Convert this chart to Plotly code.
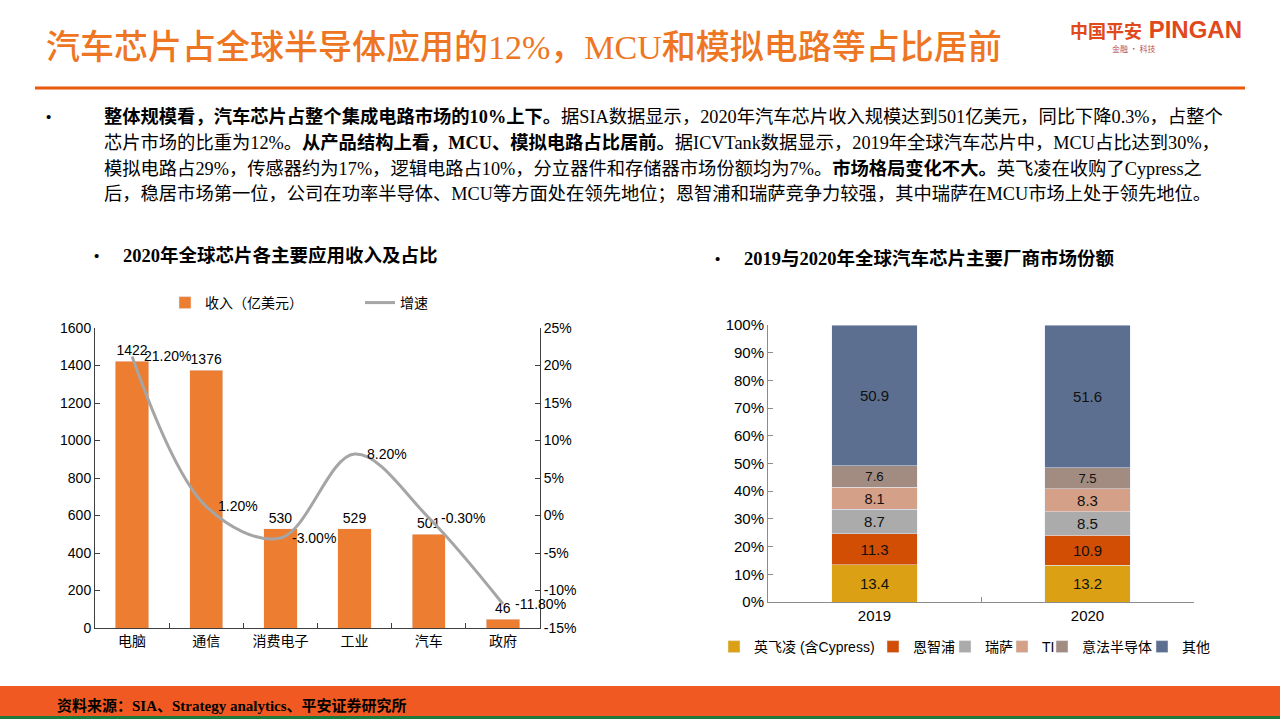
import plotly.graph_objects as go

# ---------------- data ----------------
apps = ["电脑", "通信", "消费电子", "工业", "汽车", "政府"]
revenue = [1422, 1376, 530, 529, 501, 46]          # 收入（亿美元）
growth = [21.2, 1.2, -3.0, 8.2, -0.3, -11.8]        # 增速 %

left_ticks = [0, 200, 400, 600, 800, 1000, 1200, 1400, 1600]
right_ticks = [-15, -10, -5, 0, 5, 10, 15, 20, 25]
right_ticktext = ["-15%", "-10%", "-5%", "0%", "5%", "10%", "15%", "20%", "25%"]

years = ["2019", "2020"]
vendors = ["英飞凌 (含Cypress)", "恩智浦", "瑞萨", "TI", "意法半导体", "其他"]
share_2019 = [13.4, 11.3, 8.7, 8.1, 7.6, 50.9]
share_2020 = [13.2, 10.9, 8.5, 8.3, 7.5, 51.6]
share_ticks = [0, 10, 20, 30, 40, 50, 60, 70, 80, 90, 100]
share_ticktext = [f"{t}%" for t in share_ticks]

vendor_colors = ["#DBA013", "#D24E04", "#ABABAB", "#D4A087", "#A28C82", "#5D6F90"]
# legend box left edges (px) for each vendor entry
vendor_legend_x = [714, 873, 945, 1002, 1042, 1142]

W, H = 1280, 720
def px(x):
    return x / W
def py(y):
    return 1 - y / H

SANS = "Liberation Sans, Noto Sans CJK SC, sans-serif"
CJK = "Noto Sans CJK SC, Liberation Serif, serif"
SERIF = "Liberation Serif, Noto Sans CJK SC, serif"

fig = go.Figure()

# ---------------- left chart ----------------
fig.add_trace(go.Bar(
    x=apps, y=revenue, name="收入（亿美元）", marker_color="#ED7D31",
    width=0.45, text=[str(v) for v in revenue], textposition="outside",
    textfont=dict(size=14, color="#000000", family=SANS), cliponaxis=False,
    xaxis="x", yaxis="y", legend="legend",
))
fig.add_trace(go.Scatter(
    x=apps, y=growth, name="增速", mode="lines",
    line=dict(color="#A5A5A5", width=3, shape="spline", smoothing=1.0),
    xaxis="x", yaxis="y2", legend="legend",
))
# growth labels (placed right of each point)
for c, g in zip(apps, growth):
    fig.add_annotation(x=c, y=g, xref="x", yref="y2", text=f"{g:.2f}%",
                       showarrow=False, xanchor="left", yanchor="middle",
                       xshift=10, yshift=0,
                       font=dict(size=14, color="#000000", family=SANS))

# ---------------- right chart ----------------
legend_cfg = {}
for i, v in enumerate(vendors):
    vals = [share_2019[i], share_2020[i]]
    lg = f"legend{i + 2}"
    fig.add_trace(go.Bar(
        x=years, y=vals, name=v, marker_color=vendor_colors[i], width=0.4,
        text=[f"{s:.1f}" for s in vals], textposition="inside",
        insidetextanchor="middle", textangle=0,
        textfont=dict(size=15, color="#111111", family=SANS),
        xaxis="x2", yaxis="y3", legend=lg,
    ))
    legend_cfg[lg] = dict(x=px(vendor_legend_x[i]), y=py(647), xanchor="left",
                          yanchor="middle", orientation="h",
                          bgcolor="rgba(0,0,0,0)", itemwidth=30,
                          font=dict(size=14, family=SANS, color="#000000"))

fig.update_layout(
    width=W, height=H, autosize=False,
    margin=dict(l=0, r=0, t=0, b=0, autoexpand=False),
    paper_bgcolor="white", plot_bgcolor="rgba(0,0,0,0)",
    barmode="stack",
    font=dict(family=SANS, color="#000000", size=14),
    xaxis=dict(domain=[px(95), px(540)], type="category", range=[-0.5, 5.5],
               showline=True, linecolor="#404040", linewidth=1, ticks="inside",
               tickson="boundaries", ticklen=5, tickcolor="#404040", showgrid=False,
               tickfont=dict(size=14, family=SANS), anchor="y"),
    yaxis=dict(domain=[py(628), py(328)], range=[0, 1600], tickvals=left_ticks,
               showline=True, linecolor="#404040", ticks="inside", ticklen=5,
               tickcolor="#404040", showgrid=False, zeroline=False,
               tickfont=dict(size=14, family=SANS), anchor="x"),
    yaxis2=dict(domain=[py(628), py(328)], range=[-15, 25], overlaying="y", side="right",
                tickvals=right_ticks, ticktext=right_ticktext,
                showline=True, linecolor="#404040", ticks="inside", ticklen=5,
                tickcolor="#404040", showgrid=False, zeroline=False,
                tickfont=dict(size=14, family=SANS), anchor="x"),
    xaxis2=dict(domain=[px(768), px(1194)], type="category", range=[-0.5, 1.5],
                showline=True, linecolor="#8C8C8C", ticks="inside", tickson="boundaries",
                ticklen=5, tickcolor="#8C8C8C", showgrid=False,
                tickfont=dict(size=15, family=SANS), anchor="y3"),
    yaxis3=dict(domain=[py(602), py(325)], range=[0, 100], tickvals=share_ticks,
                ticktext=share_ticktext, showline=True, linecolor="#8C8C8C",
                ticks="inside", ticklen=5, tickcolor="#8C8C8C", showgrid=False,
                zeroline=False, tickfont=dict(size=15, family=SANS), anchor="x2"),
    legend=dict(orientation="h", x=px(165), y=py(303), xanchor="left", yanchor="middle",
                bgcolor="rgba(0,0,0,0)", font=dict(size=14, family=SANS),
                entrywidth=150, itemwidth=30, traceorder="normal"),
    showlegend=True,
    **legend_cfg,
)

# ---------------- slide decorations ----------------
shapes = [
    dict(type="line", xref="paper", yref="paper", x0=px(35), x1=px(1245), y0=py(88), y1=py(88),
         line=dict(color="#E8590C", width=3)),
    dict(type="rect", xref="paper", yref="paper", x0=0, x1=1, y0=py(716), y1=py(686),
         fillcolor="#F05A22", line=dict(width=0), layer="below"),
    dict(type="rect", xref="paper", yref="paper", x0=0, x1=1, y0=py(719), y1=py(716),
         fillcolor="#1E7A3A", line=dict(width=0), layer="below"),
]
fig.update_layout(shapes=shapes)

def note(x, y, text, size, color="#000000", family=CJK, xanchor="left", weight="normal"):
    fig.add_annotation(x=px(x), y=py(y), xref="paper", yref="paper", text=text,
                       showarrow=False, xanchor=xanchor, yanchor="middle",
                       font=dict(size=size, color=color, family=family, weight=weight),
                       align="left")

note(44, 48, "汽车芯片占全球半导体应用的12%，MCU和模拟电路等占比居前", 34, "#EE7623", SERIF,
     weight=500)
note(1068, 30, "<b><span style='font-size:18px'>中国平安</span> PINGAN</b>", 24, "#E0491B", SANS)
note(1110, 49, "金融 · 科技", 8, "#C0504D", CJK)

para = [
    "<b>整体规模看，汽车芯片占整个集成电路市场的10%上下。</b>据SIA数据显示，2020年汽车芯片收入规模达到501亿美元，同比下降0.3%，占整个",
    "芯片市场的比重为12%。<b>从产品结构上看，MCU、模拟电路占比居前。</b>据ICVTank数据显示，2019年全球汽车芯片中，MCU占比达到30%，",
    "模拟电路占29%，传感器约为17%，逻辑电路占10%，分立器件和存储器市场份额均为7%。<b>市场格局变化不大。</b>英飞凌在收购了Cypress之",
    "后，稳居市场第一位，公司在功率半导体、MCU等方面处在领先地位；恩智浦和瑞萨竞争力较强，其中瑞萨在MCU市场上处于领先地位。",
]
note(44, 117, "•", 15, "#000000", SANS)
for i, line in enumerate(para):
    note(102, 117 + i * 25.7, line, 18.3, "#000000", SERIF)

note(92, 255, "•", 15, "#000000", SANS)
note(121, 255, "<b>2020年全球芯片各主要应用收入及占比</b>", 18.5, "#000000", SERIF)
note(713, 258, "•", 15, "#000000", SANS)
note(742, 258, "<b>2019与2020年全球汽车芯片主要厂商市场份额</b>", 18.5, "#000000", SERIF)

note(55, 705, "<b>资料来源：SIA、Strategy analytics、平安证券研究所</b>", 15, "#000000", SERIF)

fig.write_html("out.html", config={"displayModeBar": False},
               post_script="document.body.style.margin='0px';document.body.style.overflow='hidden';")
